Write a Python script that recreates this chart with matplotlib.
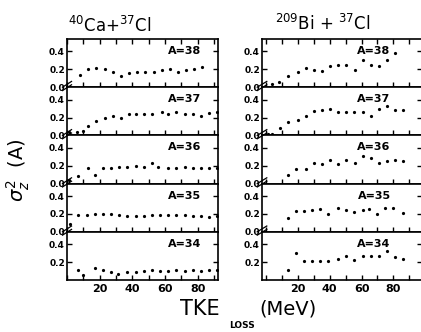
import matplotlib.pyplot as plt
from matplotlib.ticker import MultipleLocator, FuncFormatter

masses = [38, 37, 36, 35, 34]

# 40Ca + 37Cl  (TKE loss in MeV, sigma_z^2)
ca_x38 = [8, 13, 18, 23, 28, 33, 38, 43, 48, 53, 58, 63, 68, 73, 78, 83]
ca_y38 = [0.14, 0.20, 0.22, 0.20, 0.17, 0.13, 0.16, 0.17, 0.17, 0.17, 0.19, 0.20, 0.17, 0.19, 0.20, 0.23]
ca_x37 = [1, 6, 10, 13, 18, 23, 28, 33, 38, 42, 47, 52, 58, 62, 67, 72, 77, 82, 87, 92]
ca_y37 = [0.04, 0.04, 0.05, 0.10, 0.16, 0.20, 0.22, 0.20, 0.24, 0.24, 0.24, 0.24, 0.26, 0.24, 0.26, 0.245, 0.24, 0.22, 0.255, 0.26]
ca_x36 = [1, 7, 13, 17, 22, 27, 32, 37, 42, 47, 52, 56, 62, 67, 72, 77, 82, 87, 92]
ca_y36 = [0.04, 0.085, 0.17, 0.10, 0.17, 0.18, 0.185, 0.185, 0.20, 0.185, 0.23, 0.185, 0.17, 0.17, 0.185, 0.17, 0.18, 0.17, 0.17]
ca_x35 = [2, 7, 12, 17, 22, 27, 32, 37, 42, 47, 52, 57, 62, 67, 72, 77, 82, 87, 92]
ca_y35 = [0.09, 0.185, 0.19, 0.20, 0.20, 0.20, 0.19, 0.18, 0.175, 0.18, 0.185, 0.185, 0.19, 0.19, 0.185, 0.18, 0.18, 0.17, 0.175]
ca_x34 = [7, 10, 17, 22, 27, 31, 37, 42, 47, 52, 57, 62, 67, 72, 77, 82, 87, 92]
ca_y34 = [0.11, 0.06, 0.14, 0.115, 0.085, 0.07, 0.085, 0.095, 0.10, 0.11, 0.10, 0.10, 0.11, 0.10, 0.11, 0.10, 0.11, 0.115]

# 209Bi + 37Cl
bi_x38 = [4, 8, 14, 20, 25, 30, 35, 40, 45, 50, 56, 61, 66, 71, 76, 81]
bi_y38 = [0.04, 0.06, 0.12, 0.17, 0.215, 0.19, 0.185, 0.24, 0.25, 0.25, 0.195, 0.30, 0.25, 0.24, 0.30, 0.38]
bi_x37 = [1, 4, 9, 14, 20, 25, 30, 35, 40, 45, 50, 55, 61, 66, 71, 76, 81, 86]
bi_y37 = [0.02, 0.02, 0.08, 0.15, 0.17, 0.22, 0.27, 0.29, 0.30, 0.26, 0.26, 0.26, 0.26, 0.22, 0.30, 0.33, 0.29, 0.28]
bi_x36 = [14, 19, 25, 30, 35, 40, 45, 50, 56, 61, 66, 71, 76, 81, 86]
bi_y36 = [0.10, 0.16, 0.16, 0.23, 0.215, 0.26, 0.215, 0.27, 0.23, 0.31, 0.29, 0.23, 0.25, 0.27, 0.25]
bi_x35 = [14, 19, 24, 29, 34, 39, 45, 50, 55, 61, 65, 70, 75, 80, 86]
bi_y35 = [0.16, 0.23, 0.23, 0.24, 0.26, 0.20, 0.27, 0.24, 0.22, 0.24, 0.25, 0.20, 0.27, 0.27, 0.21]
bi_x34 = [14, 19, 24, 29, 34, 39, 45, 50, 55, 61, 66, 71, 76, 81, 86]
bi_y34 = [0.11, 0.30, 0.21, 0.21, 0.215, 0.215, 0.23, 0.27, 0.22, 0.27, 0.27, 0.27, 0.33, 0.26, 0.23]

ca_data = [(ca_x38, ca_y38), (ca_x37, ca_y37), (ca_x36, ca_y36), (ca_x35, ca_y35), (ca_x34, ca_y34)]
bi_data = [(bi_x38, bi_y38), (bi_x37, bi_y37), (bi_x36, bi_y36), (bi_x35, bi_y35), (bi_x34, bi_y34)]

W, H = 421, 332
fig = plt.figure(figsize=(W / 100, H / 100), dpi=100)

top_px, bot_px = 39, 280
ph = (bot_px - top_px) / 5.0

def xlab(v, pos):
    return '%d' % v if v in (20, 40, 60, 80) else ''

def draw_column(data, left_px, right_px, xlim, lab_x):
    for i, (xs, ys) in enumerate(data):
        y0 = top_px + i * ph
        ax = fig.add_axes([left_px / W, 1 - (y0 + ph) / H, (right_px - left_px) / W, ph / H])
        ax.plot(xs, ys, 'o', color='k', ms=2.3, mew=0)
        ax.set_xlim(*xlim)
        ax.set_ylim(0, 0.54)
        for s in ax.spines.values():
            s.set_linewidth(1.2)
        ax.xaxis.set_major_locator(MultipleLocator(10))
        ax.xaxis.set_major_formatter(FuncFormatter(xlab))
        if i < 4:
            ax.set_yticks([0.0, 0.2, 0.4])
            ax.set_yticklabels(['0.0', '0.2', '0.4'])
        else:
            ax.set_yticks([0.2, 0.4])
            ax.set_yticklabels(['0.2', '0.4'])
        ax.tick_params(direction='in', length=3.5, width=1.0, top=(i == 0), right=True,
                       labelbottom=(i == 4), labelsize=6.5, pad=1.5)
        ax.tick_params(axis='x', labelsize=8, pad=3)
        for t in ax.get_xticklabels() + ax.get_yticklabels():
            t.set_fontweight('bold')
        ax.text(lab_x, 0.75, 'A=%d' % masses[i], transform=ax.transAxes,
                ha='center', va='center', fontsize=8, fontweight='bold')
        if i > 0:
            for dy in (0.0, 0.07):
                ax.plot([-0.03, 0.03], [0.93 + dy, 1.05 + dy], color='k', lw=0.9,
                        transform=ax.transAxes, clip_on=False)

draw_column(ca_data, 67, 218, (0, 92.5), 0.78)
draw_column(bi_data, 262, 422, (-2.5, 98), 0.70)

fig.text(110 / W, 1 - 26 / H, r'$^{40}$Ca+$^{37}$Cl', ha='center', va='center', fontsize=12)
fig.text(323 / W, 1 - 24 / H, r'$^{209}$Bi + $^{37}$Cl', ha='center', va='center', fontsize=12)
fig.text(18 / W, 1 - 170 / H, r'$\sigma_z^2$  (A)', ha='center', va='center', fontsize=14, rotation=90)
fig.text(200 / W, 1 - 309 / H, 'TKE', ha='center', va='center', fontsize=15)
fig.text(288 / W, 1 - 309 / H, '(MeV)', ha='center', va='center', fontsize=14)
fig.text(242 / W, 1 - 326 / H, 'LOSS', ha='center', va='center', fontsize=6.5, fontweight='bold')

fig.savefig('out.png', dpi=100)
